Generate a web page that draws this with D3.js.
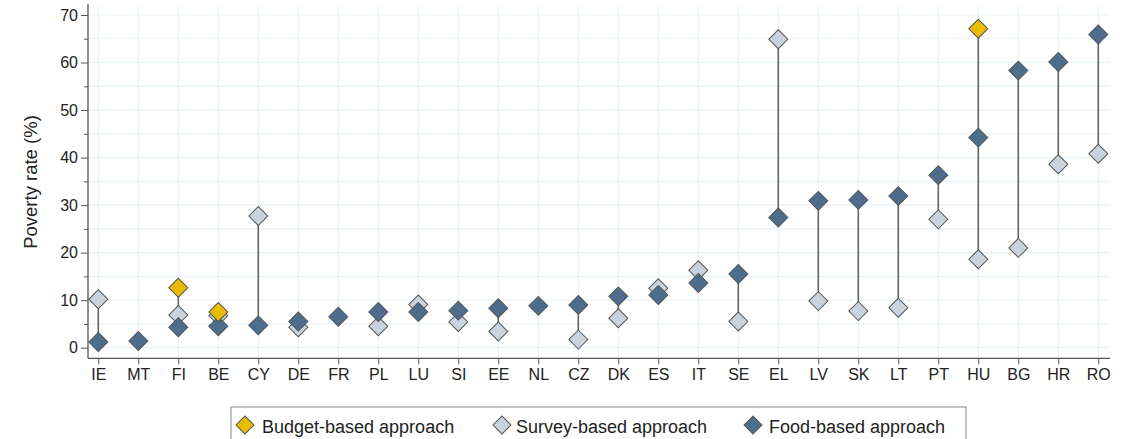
<!DOCTYPE html>
<html><head><meta charset="utf-8">
<script src="https://cdn.jsdelivr.net/npm/d3@7"></script>
<style>body{margin:0;background:#fff;} svg{display:block;font-family:"Liberation Sans",Arial,sans-serif;}</style>
</head><body>
<svg id="c" width="1122" height="439"></svg>
<script>
const countries = ["IE","MT","FI","BE","CY","DE","FR","PL","LU","SI","EE","NL","CZ","DK","ES","IT","SE","EL","LV","SK","LT","PT","HU","BG","HR","RO"];
const surveyBased = [10.2,null,6.9,6.7,27.7,4.3,null,4.5,9.1,5.4,3.4,null,1.7,6.2,12.5,16.3,5.5,64.9,9.8,7.7,8.4,27.0,18.6,21.0,38.6,40.8];
const foodBased = [1.2,1.4,4.3,4.5,4.7,5.5,6.5,7.5,7.5,7.8,8.3,8.8,9.0,10.8,11.1,13.6,15.5,27.4,30.9,31.1,31.9,36.3,44.2,58.3,60.1,65.9];
const budgetBased = [null,null,12.6,7.5,null,null,null,null,null,null,null,null,null,null,null,null,null,null,null,null,null,null,67.1,null,null,null];
const yTicks = [0,10,20,30,40,50,60,70];
const yMinor = [5,15,25,35,45,55,65];
const seriesNames = ["Budget-based approach","Survey-based approach","Food-based approach"];
const seriesColors = ["#e8bd00","#c9d3dd","#4d6d8d"];

const svg = d3.select("#c");
const x0 = 88, x1 = 1110, yBot = 358.3;
const x = d3.scalePoint().domain(countries).range([98.3, 1098.3]);
const y = d3.scaleLinear().domain([0,70]).range([347.7, 15]);
const FONT = "Liberation Sans, Arial, sans-serif";

// grid
const grid = svg.append("g");
grid.selectAll(".hg").data(yTicks.concat(yMinor)).join("line")
  .attr("x1", x0).attr("x2", x1).attr("y1", d=>y(d)).attr("y2", d=>y(d))
  .attr("stroke", "#e8f1f3").attr("stroke-width", 1.2);
grid.selectAll(".vg").data(countries).join("line")
  .attr("x1", d=>x(d)).attr("x2", d=>x(d)).attr("y1", 5).attr("y2", yBot)
  .attr("stroke", "#e8f1f3").attr("stroke-width", 1.2);

// axes
const yAxis = svg.append("g").attr("transform", `translate(${x0},0)`)
  .call(d3.axisLeft(y).tickValues(yTicks).tickSize(7).tickPadding(3).tickFormat(d3.format("d")));
yAxis.select(".domain").attr("d", `M0,4V${yBot}`).attr("stroke", "#555").attr("stroke-width", 1.3);
yAxis.selectAll(".tick line").attr("stroke", "#555");
yAxis.selectAll(".tick text").attr("font-size", 16).attr("fill", "#222").attr("font-family", FONT);
svg.append("g").attr("transform", `translate(${x0},0)`)
  .call(d3.axisLeft(y).tickValues(yMinor).tickSize(4).tickFormat(""))
  .call(g=>{g.select(".domain").remove(); g.selectAll(".tick line").attr("stroke","#555");});

const xAxis = svg.append("g").attr("transform", `translate(0,${yBot})`)
  .call(d3.axisBottom(x).tickSize(6).tickPadding(4));
xAxis.select(".domain").attr("d", `M${x0},0H${x1}`).attr("stroke", "#555").attr("stroke-width", 1.3);
xAxis.selectAll(".tick line").attr("stroke", "#555");
xAxis.selectAll(".tick text").attr("font-size", 16).attr("fill", "#222").attr("font-family", FONT);

svg.append("text").attr("transform", "translate(31,182) rotate(-90)")
  .attr("text-anchor", "middle").attr("dy", "0.35em").attr("font-size", 18.5).attr("fill", "#222")
  .text("Poverty rate (%)");

// range lines
const rows = countries.map((c,i)=>{
  const vals = [surveyBased[i], foodBased[i], budgetBased[i]].filter(v=>v!=null);
  return {c, lo: d3.min(vals), hi: d3.max(vals)};
});
svg.append("g").selectAll("line").data(rows.filter(r=>r.hi>r.lo)).join("line")
  .attr("x1", d=>x(d.c)).attr("x2", d=>x(d.c)).attr("y1", d=>y(d.lo)).attr("y2", d=>y(d.hi))
  .attr("stroke", "#666").attr("stroke-width", 1.6);

const diamond = d3.symbol().type(d3.symbolSquare).size(180);
function drawSeries(vals, color){
  svg.append("g").selectAll("path").data(countries.map((c,i)=>({c, v: vals[i]})).filter(d=>d.v!=null)).join("path")
    .attr("d", diamond)
    .attr("transform", d=>`translate(${x(d.c)},${y(d.v)}) rotate(45)`)
    .attr("fill", color).attr("stroke", "#555").attr("stroke-width", 1);
}
drawSeries(surveyBased, seriesColors[1]);
drawSeries(foodBased, seriesColors[2]);
drawSeries(budgetBased, seriesColors[0]);

// legend
const lg = svg.append("g");
lg.append("rect").attr("x", 231).attr("y", 407).attr("width", 735).attr("height", 40)
  .attr("fill", "#fff").attr("stroke", "#888").attr("stroke-width", 1);
const legX = [245, 502, 753];
const legTextX = [262, 516, 769];
const legSym = d3.symbol().type(d3.symbolSquare).size(160);
seriesNames.forEach((n,i)=>{
  lg.append("path").attr("d", legSym).attr("transform", `translate(${legX[i]},425) rotate(45)`)
    .attr("fill", seriesColors[i]).attr("stroke", "#555").attr("stroke-width", 1);
  lg.append("text").attr("x", legTextX[i]).attr("y", 432.5).attr("font-size", 18).attr("fill", "#222").text(n);
});
</script>
</body></html>
